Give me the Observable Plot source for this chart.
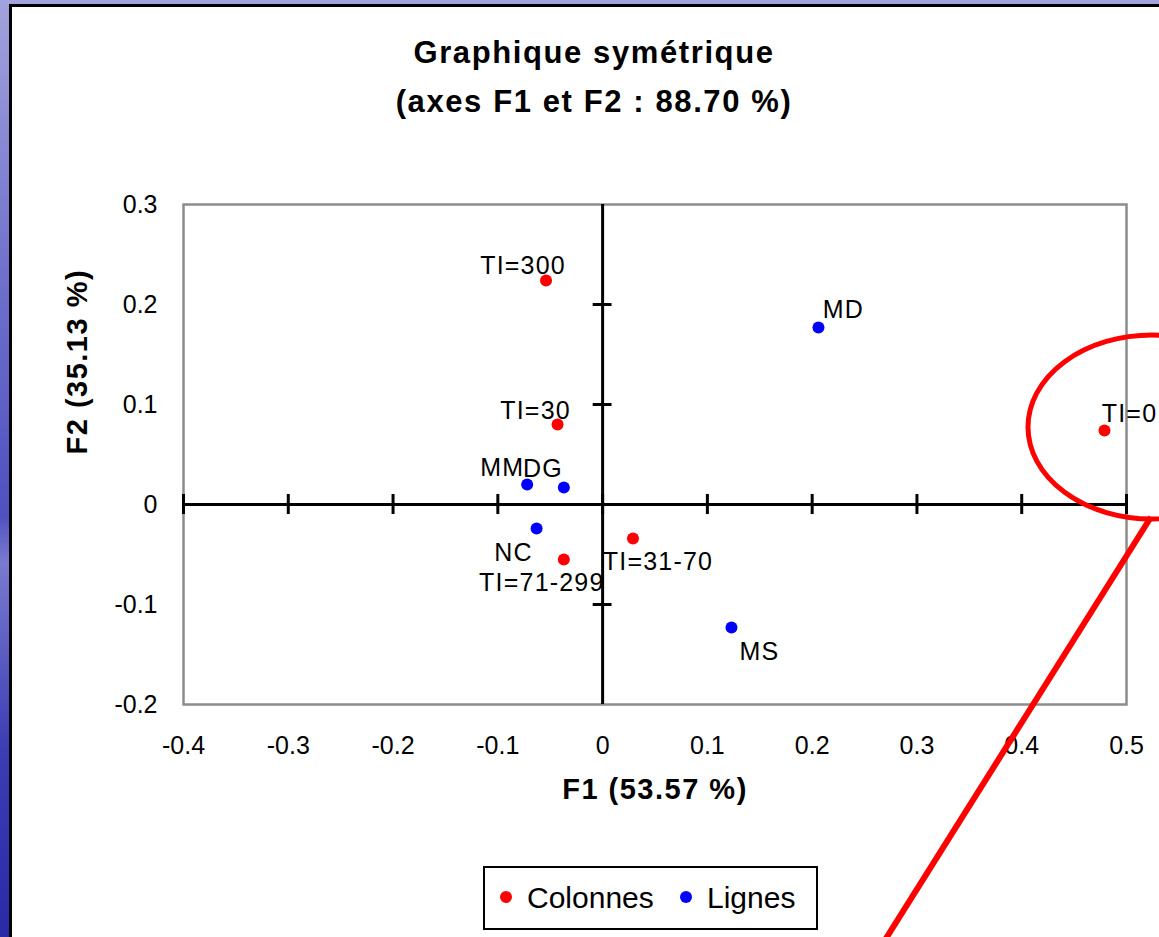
<!DOCTYPE html>
<html>
<head>
<meta charset="utf-8">
<script src="https://cdn.jsdelivr.net/npm/d3@7"></script>
<script src="https://cdn.jsdelivr.net/npm/@observablehq/plot@0.6"></script>
<style>
  html, body { margin: 0; padding: 0; width: 1159px; height: 937px; overflow: hidden; }
  body {
    position: relative;
    font-family: "Liberation Sans", Arial, sans-serif;
    background: linear-gradient(to bottom, #a2a2dc 0%, #6f6fcc 30%, #5050c0 55%, #7a7ad0 60%, #3c3cb4 80%, #2a2aa8 100%);
  }
  #panel { position: absolute; left: 9px; top: 4px; width: 1200px; height: 1000px; background: #fff; border-left: 3px solid #000; border-top: 3px solid #000; }
  #title { position: absolute; left: 594px; top: 28px; transform: translateX(-50%); white-space: nowrap; text-align: center;
           font-weight: bold; font-size: 31px; line-height: 49px; letter-spacing: 1.6px; color: #000; }
  #chart { position: absolute; left: 0; top: 0; }
  #legend { position: absolute; left: 483px; top: 866px; width: 335px; height: 64px; box-sizing: border-box; border: 2.5px solid #000; background: #fff; }
  #legend .item { position: absolute; top: 13px; font-size: 30px; line-height: 34px; color: #000; white-space: nowrap; }
  #legend .sw { position: absolute; top: 23px; width: 12px; height: 12px; border-radius: 50%; }
</style>
</head>
<body>
<div id="panel"></div>
<div id="title">Graphique symétrique<br>(axes F1 et F2 : 88.70 %)</div>
<div id="chart"></div>
<div id="legend"></div>
<script>
// ---- data ----
const colLabels = ["TI=0", "TI=30", "TI=31-70", "TI=71-299", "TI=300"];
const colF1 = [0.479, -0.043, 0.029, -0.037, -0.054];
const colF2 = [0.074, 0.080, -0.034, -0.055, 0.224];

const rowLabels = ["MM", "DG", "NC", "MS", "MD"];
const rowF1 = [-0.072, -0.037, -0.063, 0.123, 0.206];
const rowF2 = [0.020, 0.017, -0.024, -0.123, 0.177];

const seriesNames = ["Colonnes", "Lignes"];
const xTicks = [-0.4, -0.3, -0.2, -0.1, 0, 0.1, 0.2, 0.3, 0.4, 0.5];
const yTicks = [-0.2, -0.1, 0, 0.1, 0.2, 0.3];
const xTitle = "F1 (53.57 %)";
const yTitle = "F2 (35.13 %)";

// ---- layout (label offsets in px, styling) ----
const labelOffset = {
  "TI=300": [-23, -15], "TI=30": [-22, -14], "MM": [-25, -17], "DG": [-21, -19],
  "NC": [-23, 24], "TI=71-299": [-22, 23], "TI=31-70": [25, 23], "MS": [28, 24],
  "MD": [25, -18], "TI=0": [25, -17]
};
const colors = {"Colonnes": "#ff0000", "Lignes": "#0000ff"};

const points = [
  ...colLabels.map((l, i) => ({label: l, x: colF1[i], y: colF2[i], s: seriesNames[0]})),
  ...rowLabels.map((l, i) => ({label: l, x: rowF1[i], y: rowF2[i], s: seriesNames[1]}))
];

const fmt = d => String(+d.toFixed(1));

const plot = Plot.plot({
  width: 1159,
  height: 937,
  marginLeft: 183,
  marginRight: 33,
  marginTop: 204,
  marginBottom: 233,
  style: {background: "transparent", overflow: "visible", fontFamily: "'Liberation Sans', Arial, sans-serif", color: "#000"},
  x: {domain: [-0.4, 0.5]},
  y: {domain: [-0.2, 0.3]},
  marks: [
    Plot.frame({stroke: "#8c8c8c", strokeWidth: 2.5}),
    Plot.axisX(xTicks, {tickSize: 0, tickPadding: 32, fontSize: 25, tickFormat: fmt, label: null}),
    Plot.axisY(yTicks, {tickSize: 0, tickPadding: 26, fontSize: 25, tickFormat: fmt, label: null}),
    Plot.ruleY([0], {stroke: "#000", strokeWidth: 3}),
    Plot.ruleX([0], {stroke: "#000", strokeWidth: 3}),
    Plot.ruleX(xTicks, {x: d => d, y1: -0.01, y2: 0.01, stroke: "#000", strokeWidth: 3}),
    Plot.ruleY(yTicks.filter(d => d !== 0.3 && d !== -0.2), {y: d => d, x1: -0.009, x2: 0.009, stroke: "#000", strokeWidth: 3}),
    Plot.dot(points, {x: "x", y: "y", r: 6, fill: d => colors[d.s], stroke: "none"}),
    ...points.map(p => Plot.text([p], {
      x: "x", y: "y", text: "label", dx: labelOffset[p.label][0], dy: labelOffset[p.label][1],
      fontSize: 25, fill: "#000"
    })),
    Plot.text([xTitle], {frameAnchor: "bottom", dy: 94, fontSize: 29, fontWeight: "bold", fill: "#000"}),
    Plot.text([yTitle], {frameAnchor: "left", dx: -106, rotate: -90, fontSize: 29, fontWeight: "bold", fill: "#000"})
  ]
});
document.getElementById("chart").appendChild(plot);

// letter spacing on point labels & axis titles
d3.select(plot).selectAll("text").filter(function() {
  return this.textContent === xTitle || this.textContent === yTitle;
}).style("letter-spacing", "1.5px");
d3.select(plot).selectAll("text").filter(function() {
  return labelOffset[this.textContent] !== undefined;
}).style("letter-spacing", "1.2px");

// annotation: red ellipse around TI=0 and pointer line
const sx = plot.scale("x"), sy = plot.scale("y");
const i0 = colLabels.indexOf("TI=0");
const px = sx.apply(colF1[i0]), py = sy.apply(colF2[i0]);
const svg = d3.select(plot);
svg.append("ellipse")
  .attr("cx", px + 48).attr("cy", py - 3).attr("rx", 124).attr("ry", 92)
  .attr("fill", "none").attr("stroke", "#ff0000").attr("stroke-width", 5);
svg.append("line")
  .attr("x1", px + 47).attr("y1", py + 87).attr("x2", px - 219).attr("y2", py + 510)
  .attr("stroke", "#ff0000").attr("stroke-width", 6);

// legend
const lg = document.getElementById("legend");
const legendPos = [[15, 42], [195, 222]];
seriesNames.forEach((n, i) => {
  const sw = document.createElement("div");
  sw.className = "sw"; sw.style.left = legendPos[i][0] + "px"; sw.style.background = colors[n];
  lg.appendChild(sw);
  const t = document.createElement("div");
  t.className = "item"; t.style.left = legendPos[i][1] + "px"; t.textContent = n;
  lg.appendChild(t);
});
</script>
</body>
</html>
